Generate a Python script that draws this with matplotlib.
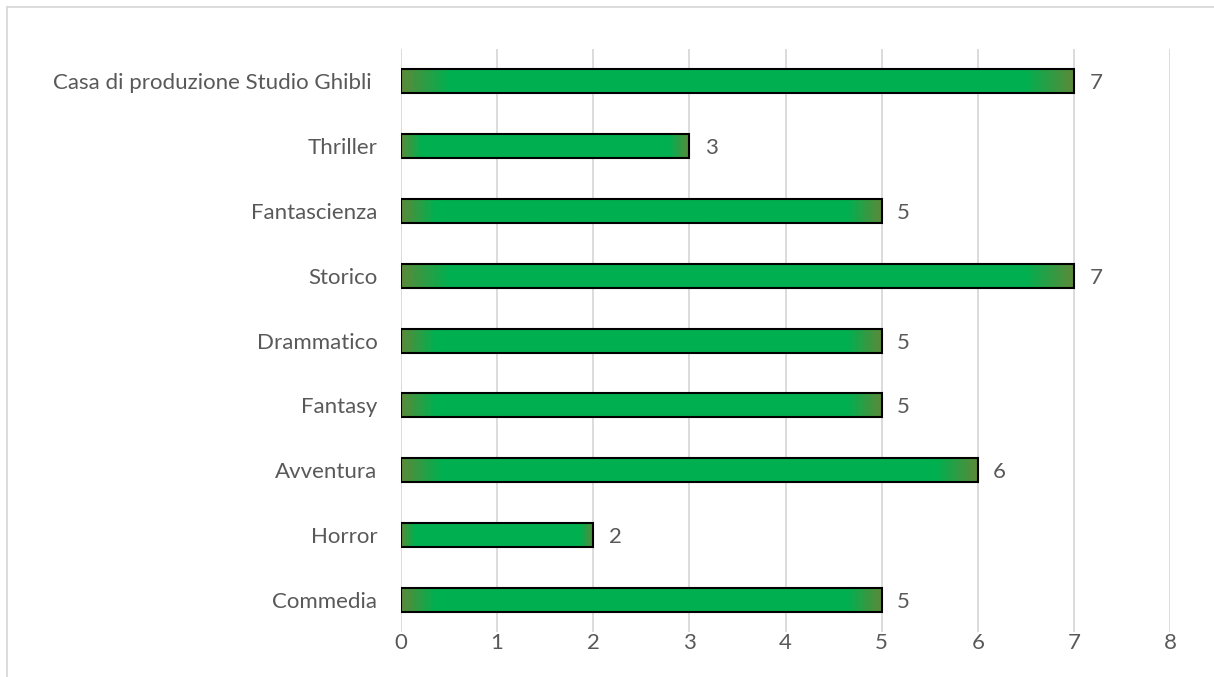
import matplotlib
matplotlib.use("Agg")
import matplotlib.pyplot as plt
import numpy as np
from matplotlib.colors import LinearSegmentedColormap
from matplotlib.lines import Line2D

## Data (bottom to top)
categories = ["Commedia", "Horror", "Avventura", "Fantasy", "Drammatico",
              "Storico", "Fantascienza", "Thriller", "Casa di produzione Studio Ghibli "]
counts = [5, 2, 6, 5, 5, 7, 5, 3, 7]
x_ticks = [0, 1, 2, 3, 4, 5, 6, 7, 8]

## Style
plt.rcParams['font.family'] = ['Lato', 'DejaVu Sans']
text_col = "#595959"
grid_col = "#D9D9D9"
bar_h = 0.37
fs = 16

# green fill that darkens to olive at both ends of each bar
olive = "#5A8A3A"
green = "#00B050"
grad = LinearSegmentedColormap.from_list(
    "bar_grad", [(0.0, olive), (0.07, green), (0.93, green), (1.0, olive)])
strip = grad(np.linspace(0, 1, 256))[np.newaxis, :, :]

fig = plt.figure(figsize=(12.14, 6.77), dpi=100)
ax = fig.add_axes([0.3303, 0.0665, 0.6335, 0.861])

y = np.arange(len(categories))
for yi, v in zip(y, counts):
    ax.imshow(strip, extent=[0, v, yi - bar_h / 2, yi + bar_h / 2],
              aspect='auto', interpolation='bilinear', zorder=2)
ax.barh(y, counts, height=bar_h, facecolor='none', edgecolor='black',
        linewidth=1.5, zorder=3)

for yi, v in zip(y, counts):
    ax.text(v + 0.16, yi, str(v), va='center_baseline', ha='left',
            fontsize=fs, color=text_col)

ax.set_xlim(0, 8)
ax.set_ylim(-0.5, len(categories) - 0.5)
ax.set_xticks(x_ticks)
ax.set_yticks(y)
ax.set_yticklabels(categories)
ax.tick_params(axis='both', length=0, labelsize=fs, labelcolor=text_col)
ax.tick_params(axis='y', pad=17)
ax.tick_params(axis='x', pad=1)

ax.grid(axis='x', color=grid_col, linewidth=1.3)
ax.set_axisbelow(True)
for s in ax.spines.values():
    s.set_visible(False)

# chart frame (only top and left edges fall inside the image)
fig.add_artist(Line2D([0.006, 1.0], [0.989, 0.989], color=grid_col, linewidth=1.3))
fig.add_artist(Line2D([0.006, 0.006], [0.0, 0.989], color=grid_col, linewidth=1.3))

fig.savefig("out.png", dpi=100, facecolor='white')
